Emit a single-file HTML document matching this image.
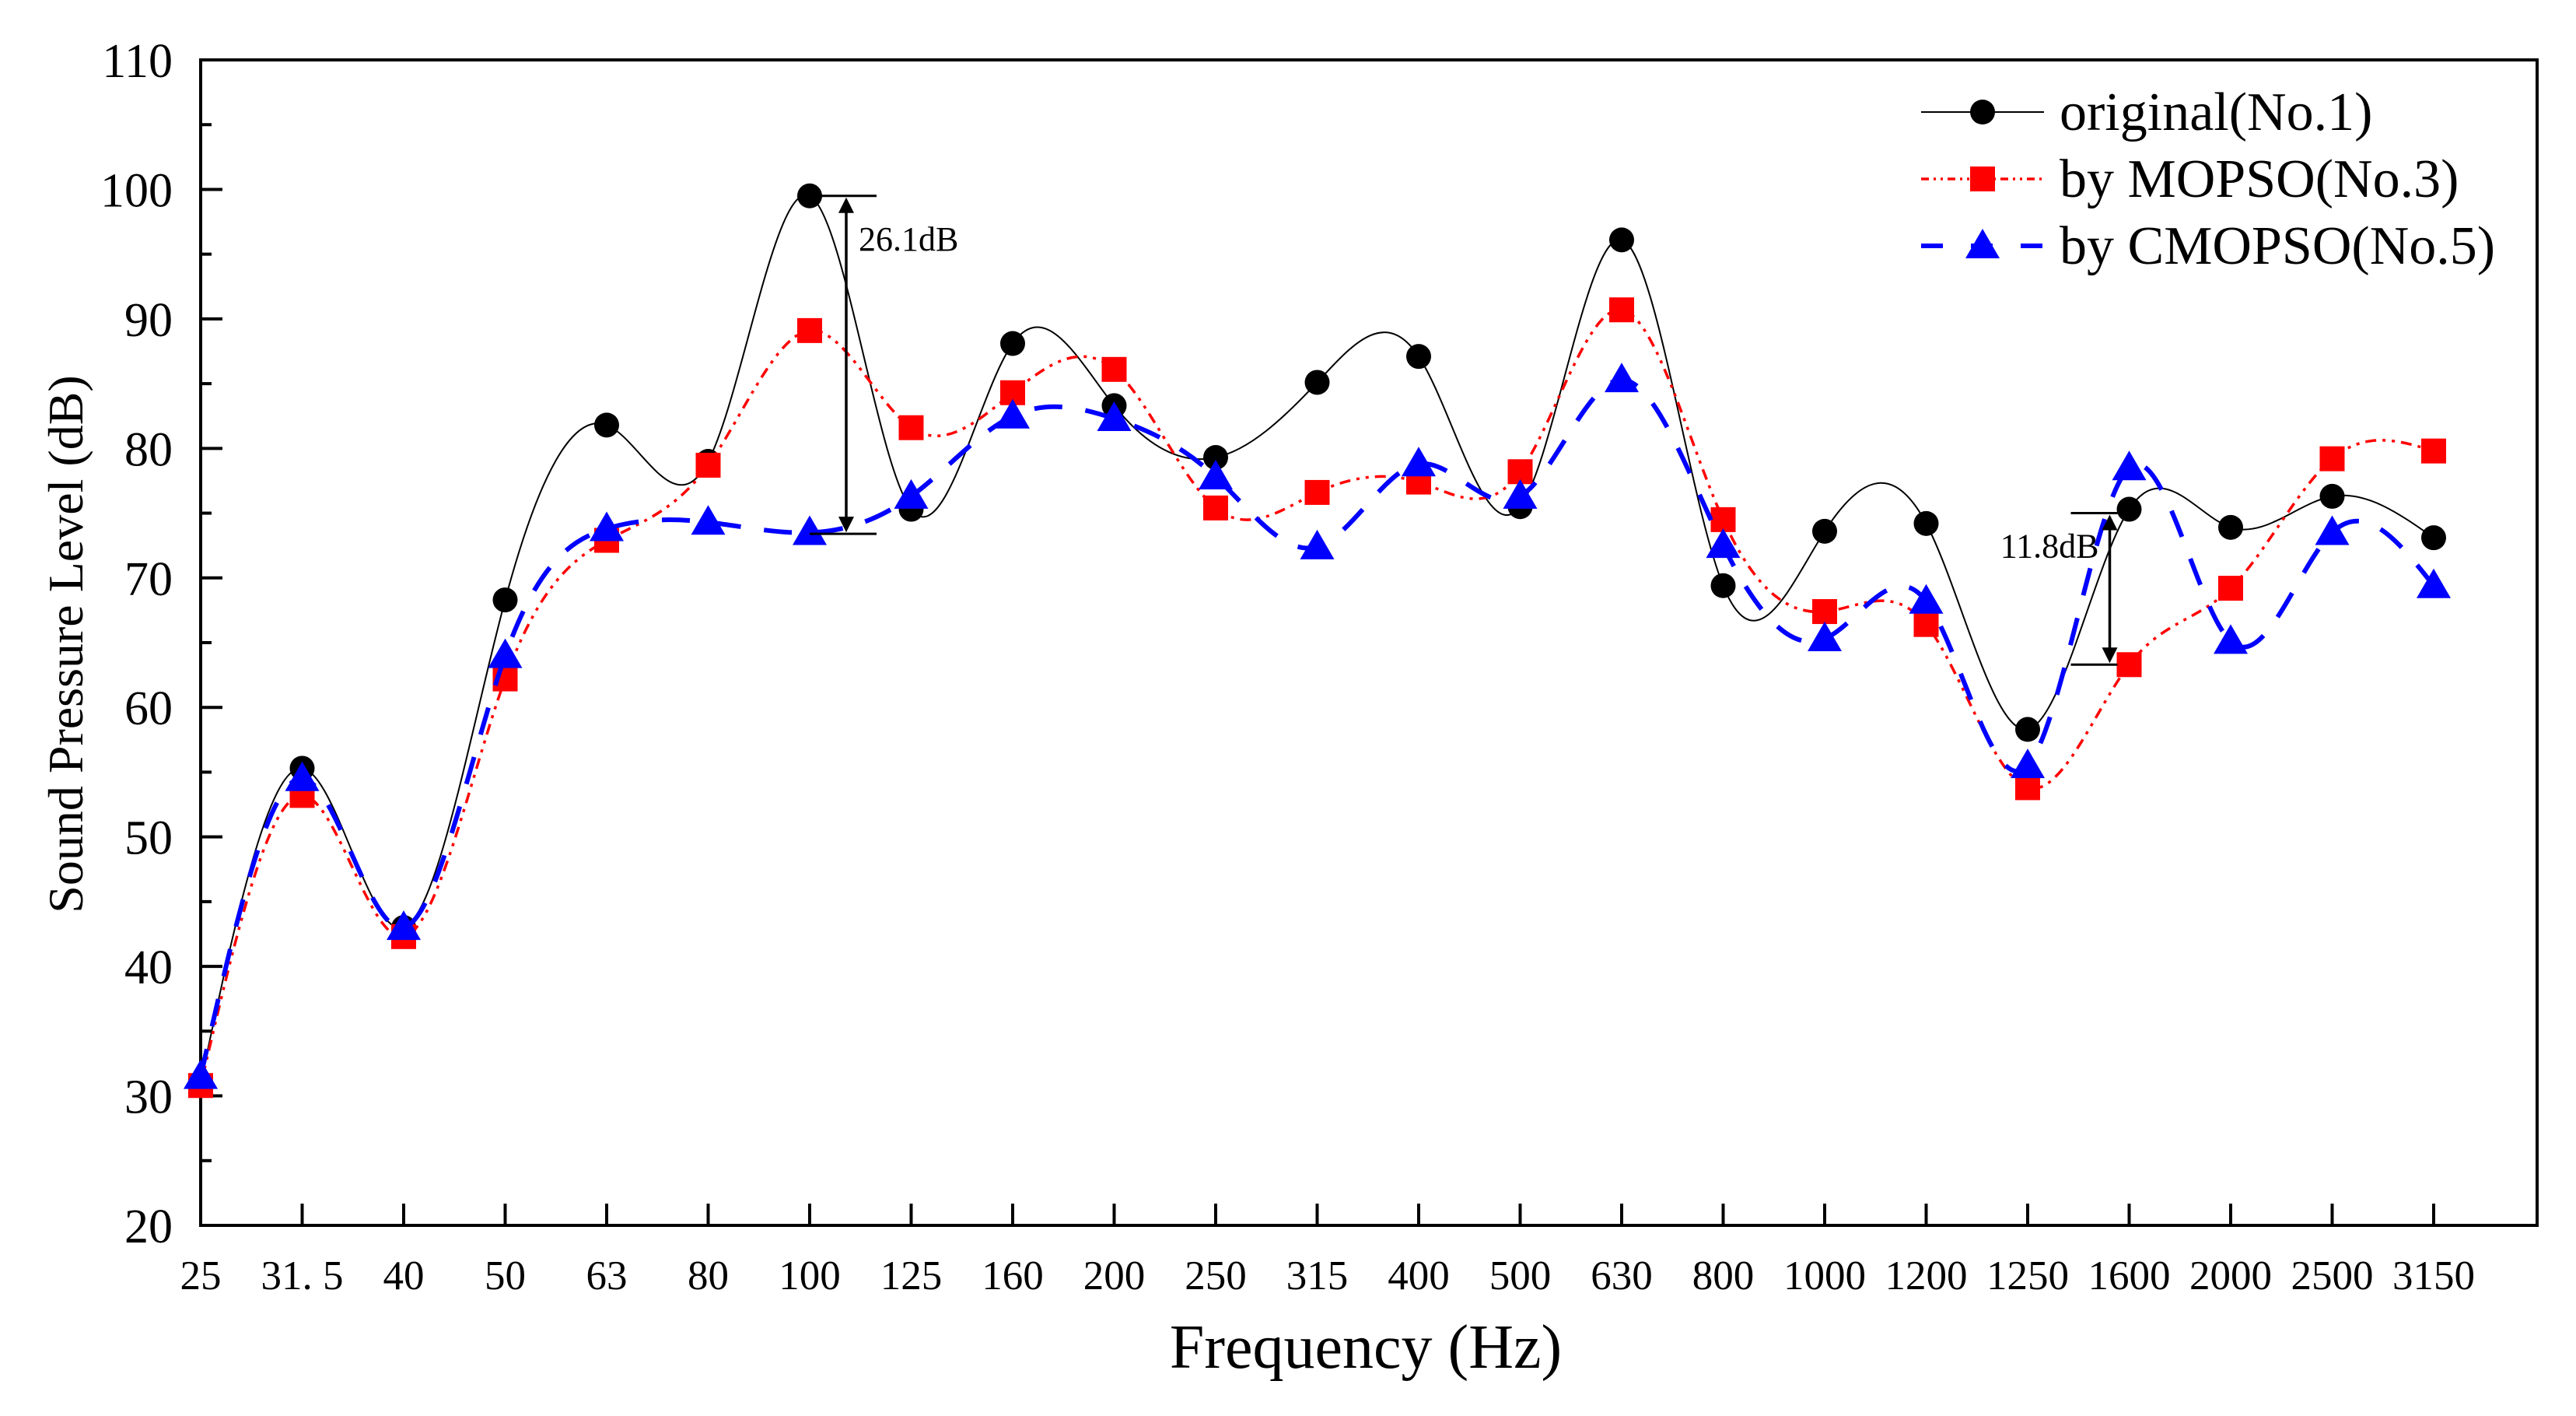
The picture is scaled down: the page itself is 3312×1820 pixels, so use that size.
<!DOCTYPE html>
<html><head><meta charset="utf-8"><style>
html,body{margin:0;padding:0;background:#fff}
svg{display:block}
text{font-family:"Liberation Serif","Times New Roman",serif;fill:#000}
</style></head><body>
<svg id="chart" width="3312" height="1820" viewBox="0 0 3312 1820" xmlns="http://www.w3.org/2000/svg">
<g id="plot"></g>
</svg>
<script>
const categories = ["25","31.5","40","50","63","80","100","125","160","200","250","315","400","500","630","800","1000","1200","1250","1600","2000","2500","3150"];
const originalValues = [31,55.3,43,68.3,81.8,79,99.5,75.3,88.1,83.3,79.3,85.1,87.1,75.5,96.1,69.4,73.6,74.2,58.3,75.3,73.9,76.3,73.1];
const mopsoValues = [30.8,53.2,42.3,62.2,72.9,78.7,89.1,81.6,84.3,86.1,75.4,76.6,77.4,78.2,90.7,74.5,67.4,66.4,53.8,63.3,69.2,79.2,79.8];
const cmopsoValues = [31.5,54.5,43,64,73.8,74.3,73.5,76.3,82.5,82.3,77.8,72.4,78.8,76.3,85.3,72.5,65.3,68.2,55.5,78.5,65.1,73.5,69.4];
const yTicks = [20,30,40,50,60,70,80,90,100,110];
const annotations = [{cat:6, hi:99.5, lo:73.4, label:"26.1dB"},{cat:19, hi:75.0, lo:63.3, label:"11.8dB"}];

const NS="http://www.w3.org/2000/svg";
const L=258,R=3262,T=77,B=1575,X0=258,STEP=130.5,YMIN=20,YMAX=110;
const xs=i=>X0+i*STEP;
const ys=v=>B-(v-YMIN)/(YMAX-YMIN)*(B-T);
const g=document.getElementById('plot');
function mk(tag,attrs,parent){const e=document.createElementNS(NS,tag);for(const k in attrs)e.setAttribute(k,attrs[k]);(parent||g).appendChild(e);return e;}

const frame=mk('rect',{x:L,y:T,width:R-L,height:B-T,fill:'none',stroke:'#000','stroke-width':4});



yTicks.forEach(v=>{
  const y=ys(v);
  const t=mk('line',{x1:L,x2:L+28,y1:y,y2:y,stroke:'#000','stroke-width':4});
  
  
  if(v<YMAX){const m=mk('line',{x1:L,x2:L+14,y1:ys(v+5),y2:ys(v+5),stroke:'#000','stroke-width':4});
    
    }
  const lb=mk('text',{x:222,y:y+22,'text-anchor':'end','font-size':62});
  lb.textContent=v;
  
  
});
categories.forEach((c,i)=>{
  const x=xs(i);
  if(i>0){const t=mk('line',{x1:x,x2:x,y1:B,y2:B-28,stroke:'#000','stroke-width':4});
    
    }
  const lb=mk('text',{x:x,y:1657,'text-anchor':'middle','font-size':53});
  lb.textContent=c==='31.5'?'31. 5':c;
  
  
});
const xt=mk('text',{x:1756,y:1758,'text-anchor':'middle','font-size':80});
xt.textContent='Frequency (Hz)';


const yt=mk('text',{x:0,y:0,'text-anchor':'middle','font-size':64,transform:'translate(106,828) rotate(-90)'});
yt.textContent='Sound Pressure Level (dB)';



// natural cubic spline through points (uniform x)
function curve(vals){
  const n=vals.length, y=vals.map(ys);
  const a=new Array(n).fill(0),b=new Array(n).fill(0),c=new Array(n).fill(0),d=new Array(n).fill(0);
  b[0]=1;b[n-1]=1;
  for(let i=1;i<n-1;i++){a[i]=1;b[i]=4;c[i]=1;d[i]=6*(y[i+1]-2*y[i]+y[i-1]);}
  for(let i=1;i<n;i++){const w=a[i]/b[i-1];b[i]-=w*c[i-1];d[i]-=w*d[i-1];}
  const M=new Array(n).fill(0);M[n-1]=d[n-1]/b[n-1];
  for(let i=n-2;i>=0;i--)M[i]=(d[i]-c[i]*M[i+1])/b[i];
  let p=`M${xs(0)},${y[0]}`;
  for(let i=0;i<n-1;i++){
    const s0=(y[i+1]-y[i])-(2*M[i]+M[i+1])/6, s1=(y[i+1]-y[i])+(M[i]+2*M[i+1])/6;
    const h=STEP;
    p+=` C${xs(i)+h/3},${y[i]+s0/3} ${xs(i+1)-h/3},${y[i+1]-s1/3} ${xs(i+1)},${y[i+1]}`;
  }
  return p;
}
function marker(type,x,y,parent){
  if(type==='circle')return mk('circle',{cx:x,cy:y,r:16,fill:'#000'},parent);
  if(type==='square')return mk('rect',{x:x-16,y:y-16,width:32,height:32,fill:'#ff0000'},parent);
  return mk('polygon',{points:`${x},${y-22} ${x-22},${y+16} ${x+22},${y+16}`,fill:'#0000ff'},parent);
}
const series=[
 {vals:originalValues,name:'original',stroke:'#000',w:2,dash:'',m:'circle'},
 {vals:mopsoValues,name:'mopso',stroke:'#ff0000',w:3.5,dash:'14 8 4 8 4 8',m:'square'},
 {vals:cmopsoValues,name:'cmopso',stroke:'#0000ff',w:6,dash:'36 30',m:'triangle'}
];
series.forEach(s=>{
  const grp=mk('g',{});
  
  
  const ln=mk('path',{d:curve(s.vals),fill:'none',stroke:s.stroke,'stroke-width':s.w,'stroke-dasharray':s.dash},grp);
  
  
  s.vals.forEach((v,i)=>{
    const mm=marker(s.m,xs(i),ys(v),grp);
    
    
  });
});

annotations.forEach((a,j)=>{
  const ag=mk('g',{});
  
  
  const cx=xs(a.cat);
  const ax=j===0?cx+47:cx-25;
  const y1=ys(a.hi),y2=ys(a.lo);
  const x1=j===0?cx:cx-75,x2=j===0?cx+86:cx-15;
  mk('line',{x1:x1,x2:x2,y1:y1,y2:y1,stroke:'#000','stroke-width':3},ag);
  mk('line',{x1:x1,x2:x2,y1:y2,y2:y2,stroke:'#000','stroke-width':3},ag);
  mk('line',{x1:ax,x2:ax,y1:y1+14,y2:y2-14,stroke:'#000','stroke-width':3.5},ag);
  mk('polygon',{points:`${ax},${y1+2} ${ax-10},${y1+22} ${ax+10},${y1+22}`,fill:'#000'},ag);
  mk('polygon',{points:`${ax},${y2-2} ${ax-10},${y2-22} ${ax+10},${y2-22}`,fill:'#000'},ag);
  const tx=mk('text',j===0?{x:ax+16,y:y1+70,'font-size':44}:{x:ax-14,y:y1+57,'font-size':44,'text-anchor':'end'},ag);
  tx.textContent=a.label;
});

const legend=[["original(No.1)",'#000',2,'','circle'],["by MOPSO(No.3)",'#ff0000',3.5,'10 6 3 6 3 6','square'],["by CMOPSO(No.5)",'#0000ff',6,'28 36','triangle']];
legend.forEach((e,i)=>{
  const y=144+i*86;
  const lg=mk('g',{});
  
  
  mk('line',{x1:2470,x2:2628,y1:y,y2:y,stroke:e[1],'stroke-width':e[2],'stroke-dasharray':e[3]},lg);
  marker(e[4],2549,y,lg);
  const t=mk('text',{x:2648,y:y+23,'font-size':70},lg);
  t.textContent=e[0];
});
</script>
</body></html>
